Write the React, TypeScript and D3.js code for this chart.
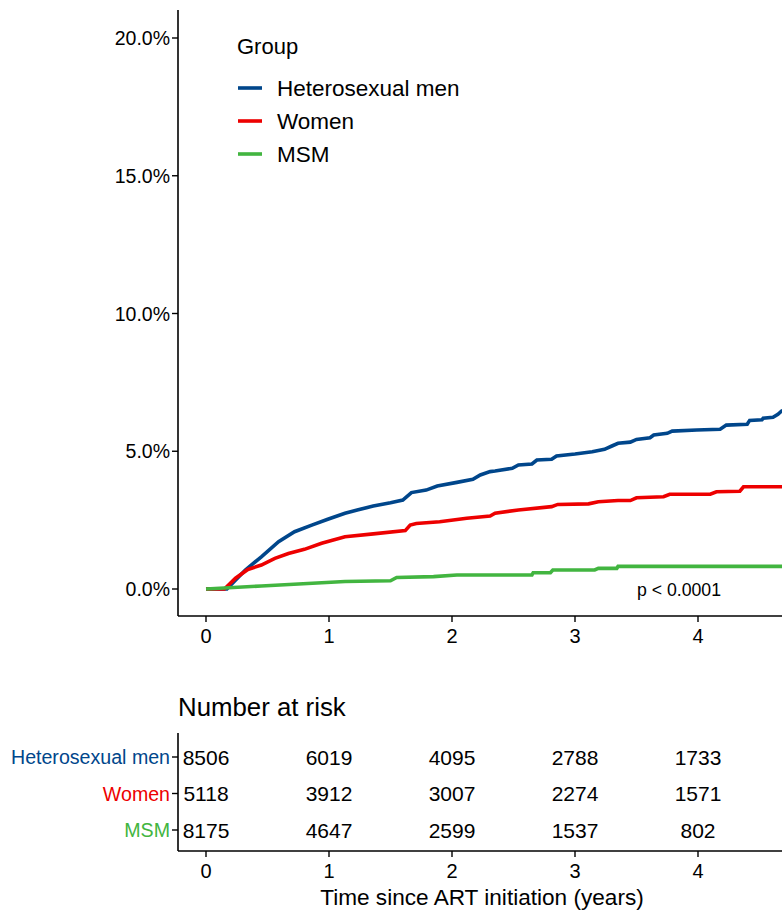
import React from 'react';
import * as d3 from 'd3';

const groups = ['Heterosexual men', 'Women', 'MSM'];
const colors = ['#00468B', '#ED0000', '#42B540'];

// [time in years, cumulative incidence %]
const hetMen: [number, number][] = [
  [0, 0], [0.17, 0], [0.32, 0.69], [0.45, 1.17], [0.59, 1.72], [0.72, 2.08], [0.86, 2.32],
  [0.99, 2.53], [1.13, 2.75], [1.23, 2.87], [1.36, 3.01], [1.5, 3.13], [1.6, 3.23],
  [1.67, 3.5], [1.79, 3.59], [1.88, 3.74], [2.04, 3.87], [2.17, 3.98], [2.23, 4.14],
  [2.31, 4.26], [2.35, 4.28], [2.49, 4.38], [2.54, 4.5], [2.65, 4.54], [2.69, 4.68],
  [2.81, 4.71], [2.85, 4.83], [3.0, 4.9], [3.14, 4.98], [3.24, 5.07], [3.3, 5.19],
  [3.35, 5.29], [3.45, 5.33], [3.5, 5.43], [3.61, 5.49], [3.64, 5.59], [3.75, 5.65],
  [3.79, 5.73], [3.99, 5.77], [4.18, 5.8], [4.23, 5.95], [4.4, 5.98], [4.42, 6.12],
  [4.52, 6.14], [4.53, 6.2], [4.61, 6.23], [4.65, 6.34], [4.68, 6.46], [4.75, 6.6],
];
const women: [number, number][] = [
  [0, 0], [0.15, 0], [0.24, 0.39], [0.34, 0.71], [0.45, 0.87], [0.56, 1.11], [0.67, 1.29],
  [0.8, 1.44], [0.94, 1.66], [1.13, 1.9], [1.36, 2.0], [1.62, 2.12], [1.66, 2.32],
  [1.71, 2.38], [1.9, 2.44], [2.12, 2.57], [2.31, 2.65], [2.35, 2.75], [2.54, 2.87],
  [2.81, 2.99], [2.86, 3.07], [3.11, 3.09], [3.19, 3.17], [3.35, 3.21], [3.45, 3.21],
  [3.5, 3.31], [3.72, 3.35], [3.77, 3.44], [4.1, 3.44], [4.15, 3.53], [4.34, 3.55],
  [4.37, 3.71], [4.8, 3.71],
];
const msm: [number, number][] = [
  [0, 0], [0.45, 0.11], [1.13, 0.27], [1.5, 0.3], [1.55, 0.42], [1.85, 0.45], [2.04, 0.51],
  [2.65, 0.51], [2.66, 0.59], [2.8, 0.59], [2.82, 0.69], [3.16, 0.69], [3.19, 0.75],
  [3.34, 0.75], [3.35, 0.82], [4.8, 0.82],
];
const series = [hetMen, women, msm];

const yTicks = [0, 5, 10, 15, 20];
const xTicks = [0, 1, 2, 3, 4];
const riskTimes = [0, 1, 2, 3, 4];
const atRisk = [
  [8506, 6019, 4095, 2788, 1733],
  [5118, 3912, 3007, 2274, 1571],
  [8175, 4647, 2599, 1537, 802],
];

const font = '"Liberation Sans", Arial, sans-serif';

export default function App() {
  const width = 782;
  const height = 913;
  const left = 178;

  const x = d3.scaleLinear().domain([0, 4]).range([206, 698]);
  const y = d3.scaleLinear().domain([0, 20]).range([589, 38]);
  const plotBottom = 616;

  const line = d3
    .line<[number, number]>()
    .x((d) => x(d[0]))
    .y((d) => y(d[1]))
    .curve(d3.curveLinear);

  const rowY = d3.scalePoint<number>().domain([0, 1, 2]).range([757, 830]);
  const tableBottom = 851;

  return (
    <svg width={width} height={height} style={{ display: 'block', position: 'absolute', left: 0, top: 0 }} fontFamily={font}>
      <rect width={width} height={height} fill="#fff" />

      {/* curves */}
      <g fill="none" strokeWidth={3.6} strokeLinejoin="miter">
        {series.map((s, i) => (
          <path key={groups[i]} d={line(s) ?? ''} stroke={colors[i]} />
        ))}
      </g>

      {/* y axis */}
      <line x1={left} x2={left} y1={10} y2={plotBottom} stroke="#000" strokeWidth={1.6} />
      {yTicks.map((t) => (
        <g key={t} transform={`translate(${left},${y(t)})`}>
          <line x1={-6} x2={0} stroke="#000" strokeWidth={1.4} />
          <text x={-8} textAnchor="end" dominantBaseline="central" fontSize={19.5}>
            {`${t.toFixed(1)}%`}
          </text>
        </g>
      ))}

      {/* x axis */}
      <line x1={left} x2={width} y1={plotBottom} y2={plotBottom} stroke="#000" strokeWidth={1.6} />
      {xTicks.map((t) => (
        <g key={t} transform={`translate(${x(t)},${plotBottom})`}>
          <line y1={0} y2={6} stroke="#000" strokeWidth={1.4} />
          <text y={20} textAnchor="middle" dominantBaseline="central" fontSize={20}>
            {t}
          </text>
        </g>
      ))}

      <text x={679} y={590} textAnchor="middle" dominantBaseline="central" fontSize={17.7}>
        p &lt; 0.0001
      </text>

      {/* legend */}
      <text x={237} y={46} dominantBaseline="central" fontSize={22}>
        Group
      </text>
      {groups.map((g, i) => (
        <g key={g} transform={`translate(238,${88 + i * 33})`}>
          <line x1={0} x2={24} stroke={colors[i]} strokeWidth={3.6} />
          <text x={39} dominantBaseline="central" fontSize={22.5}>
            {g}
          </text>
        </g>
      ))}

      {/* risk table */}
      <text x={178} y={707} dominantBaseline="central" fontSize={25.8}>
        Number at risk
      </text>
      <line x1={left} x2={left} y1={733} y2={tableBottom} stroke="#000" strokeWidth={1.6} />
      <line x1={left} x2={width} y1={tableBottom} y2={tableBottom} stroke="#000" strokeWidth={1.6} />
      {groups.map((g, i) => (
        <g key={g} transform={`translate(0,${rowY(i)})`}>
          <line x1={left - 6} x2={left} stroke="#000" strokeWidth={1.4} />
          <text x={left - 8} textAnchor="end" dominantBaseline="central" fontSize={19.6} fill={colors[i]}>
            {g}
          </text>
          {atRisk[i].map((n, j) => (
            <text key={j} x={x(riskTimes[j])} textAnchor="middle" dominantBaseline="central" fontSize={21}>
              {n}
            </text>
          ))}
        </g>
      ))}
      {xTicks.map((t) => (
        <g key={t} transform={`translate(${x(t)},${tableBottom})`}>
          <line y1={0} y2={6} stroke="#000" strokeWidth={1.4} />
          <text y={20} textAnchor="middle" dominantBaseline="central" fontSize={20}>
            {t}
          </text>
        </g>
      ))}
      <text x={482} y={897} textAnchor="middle" dominantBaseline="central" fontSize={22.6}>
        Time since ART initiation (years)
      </text>
    </svg>
  );
}
